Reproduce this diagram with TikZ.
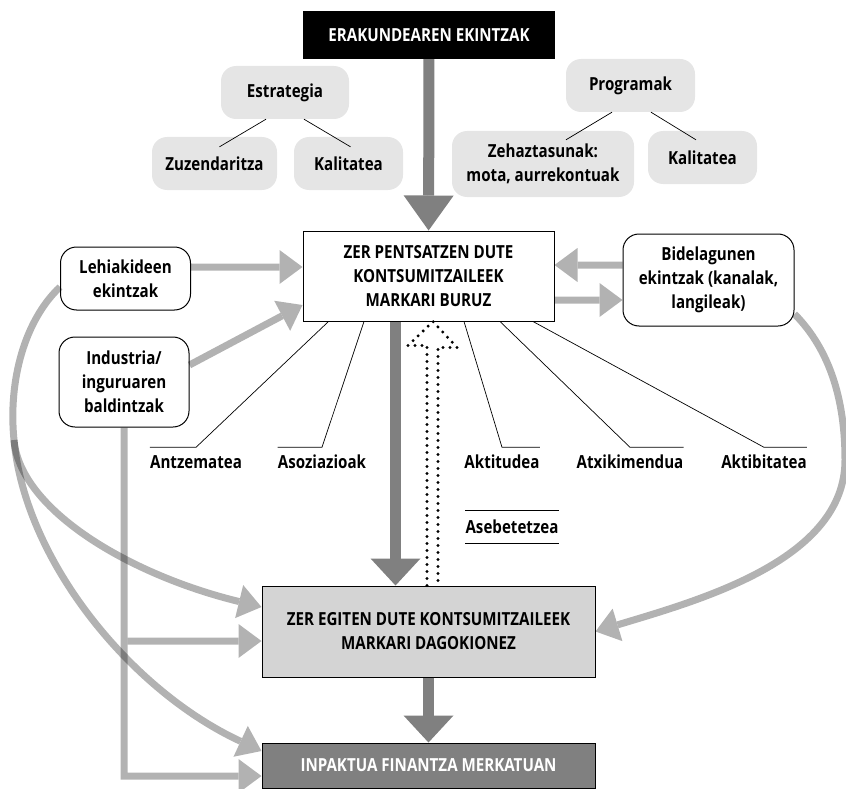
\documentclass[tikz,border=0pt]{standalone}
\usepackage{fontspec}
\setmainfont{Open Sans}[FakeStretch=0.84]
\usetikzlibrary{arrows.meta}

\begin{document}
\begin{tikzpicture}[x=1pt,y=-1pt,
  every node/.style={align=center,font=\bfseries\fontsize{18}{24}\selectfont},
  topic/.style={fill=black!10,rounded corners=15pt,minimum height=53pt},
  actor/.style={draw,line width=1pt,rounded corners=16pt,fill=white,minimum width=130pt},
  stage/.style={draw,line width=1pt,minimum width=333pt},
  aspect/.style={inner xsep=0pt,inner ysep=8pt,text height=13pt,text depth=0pt},
  twig/.style={line width=.7pt},
  big/.style={draw=black!50,line width=11pt,-{Triangle[length=27pt,width=50pt,line width=0pt]}},
  lite/.style={draw=black,line width=7pt,-{Triangle[length=23pt,width=34pt,line width=0pt]}},
  faint/.style={transparency group,opacity=.3},
  back/.style={line width=3.3pt,dash pattern=on 0pt off 7pt,line cap=round}]
  \useasboundingbox (0,0) rectangle (846,789);

  % the organisation and its actions
  \node[fill=black,text=white,minimum width=252pt,minimum height=48pt] (act) at (429,35) {ERAKUNDEAREN EKINTZAK};
  \node[topic,minimum width=128pt] (strat) at (285,92.5) {Estrategia};
  \node[topic,minimum width=125pt] (zuz) at (214.5,163.5) {Zuzendaritza};
  \node[topic,minimum width=109pt] (kal1) at (348.5,163.5) {Kalitatea};
  \node[topic,minimum width=129pt] (prog) at (630.5,85.5) {Programak};
  \node[topic,minimum width=182pt,minimum height=66pt] (zeh) at (543,164) {Zehaztasunak:\\mota, aurrekontuak};
  \node[topic,minimum width=109pt] (kal2) at (702.5,157.5) {Kalitatea};
  \draw[twig] ([xshift=-19]strat.south) -- ([xshift=5,yshift=-10]zuz.north);
  \draw[twig] ([xshift=19]strat.south) -- ([xshift=2,yshift=-10]kal1.north);
  \draw[twig] ([xshift=-18.5]prog.south) -- ([xshift=23,yshift=-9]zeh.north);
  \draw[twig] ([xshift=20.5]prog.south) -- ([xshift=-6.5,yshift=-9]kal2.north);

  % what consumers think, and who else acts on it
  \node[draw,line width=1pt,minimum width=251pt,minimum height=90pt] (think) at (428.5,276) {ZER PENTSATZEN DUTE\\KONTSUMITZAILEEK\\MARKARI BURUZ};
  \node[actor,minimum height=63pt] (lehia) at (125.5,278.5) {Lehiakideen\\ekintzak};
  \node[actor,minimum height=90pt] (indus) at (124,382) {Industria/\\inguruaren\\baldintzak};
  \node[actor,minimum width=171pt,minimum height=92pt] (bide) at (708.5,280) {Bidelagunen\\ekintzak (kanalak,\\langileak)};

  \node[aspect] (ant) at (196,462) {Antzematea};
  \node[aspect] (aso) at (322,462) {Asoziazioak};
  \node[aspect] (att) at (502,462) {Aktitudea};
  \node[aspect] (atx) at (630,462) {Atxikimendua};
  \node[aspect] (akb) at (764,462) {Aktibitatea};
  \node[aspect,inner ysep=9.5pt] (ase) at (512,527) {Asebetetzea};
  \draw[twig] ([xshift=-100]think.south) -- (ant.north) -- (ant.north west);
  \draw[twig] ([xshift=-64.5]think.south) -- (aso.north) -- (aso.north west);
  \draw[twig] ([xshift=35.5]think.south) -- (att.north) -- (att.north east);
  \draw[twig] ([xshift=71.5]think.south) -- (atx.north) -- (atx.north east);
  \draw[twig] ([xshift=104.5]think.south) -- (akb.north) -- (akb.north east);
  \draw[twig] (ase.north west) -- (ase.north east) (ase.south west) -- (ase.south east);

  % what consumers do, and the market
  \node[stage,fill=black!17,minimum height=91pt] (do) at (428.5,631.5) {ZER EGITEN DUTE KONTSUMITZAILEEK\\MARKARI DAGOKIONEZ};
  \node[stage,fill=black!50,text=white,minimum height=45pt] (impact) at (428.5,765.5) {INPAKTUA FINANTZA MERKATUAN};

  \draw[big,-{Triangle[length=35pt,width=50pt,line width=0pt]}] (act) -- (think);
  \draw[big] ([xshift=-33]think.south) -- ([xshift=-33]do.north);
  \draw[big] (do) -- (impact);
  \draw[back] ([xshift=-1.5]do.north) -- ++(0,-240) -- ++(-19,0) -- ([xshift=4.5]think.south)
    -- ++(24,26) -- ++(-19,0) -- ([xshift=9.5]do.north);

  \scoped[faint] \draw[lite] ([yshift=11.5]lehia.east) -- ([yshift=9]think.west);
  \scoped[faint] \draw[lite] ([yshift=17]indus.east) -- ([yshift=-29]think.west);
  \scoped[faint] \draw[lite] ([yshift=15]bide.west) -- ([yshift=11]think.east);
  \scoped[faint] \draw[lite] ([yshift=-24]think.east) -- ([yshift=-20]bide.west);
  \scoped[faint] \draw[lite] (indus.south) |- ([yshift=-10.5]impact.west);
  \coordinate (fork) at (127.5,641);
  \scoped[faint] \draw[lite] (fork) -- (fork -| do.west);
  \coordinate (split) at (14,440);
  \scoped[faint] \draw[lite] ([yshift=-8.5]lehia.west) .. controls (25,320) and (8,380) .. (split)
    .. controls (20,510) and (130,575) .. ([yshift=24.5]do.west);
  \scoped[faint] \draw[lite] (split) .. controls (25,560) and (130,690) .. ([yshift=14.5]impact.west);
  \scoped[faint] \draw[lite] ([yshift=-34]bide.east) .. controls (830,350) and (845,400) .. (845,460)
    .. controls (845,560) and (700,600) .. (do.east);
\end{tikzpicture}
\end{document}
